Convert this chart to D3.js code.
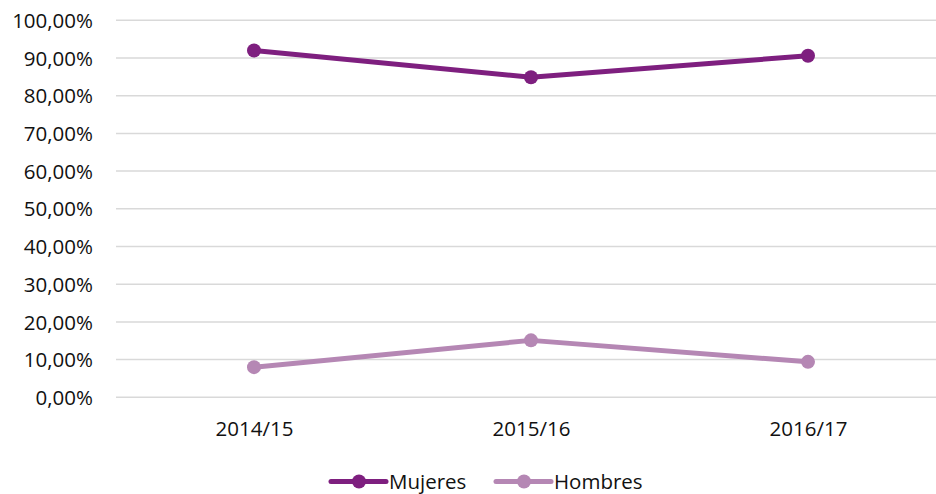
<!DOCTYPE html>
<html><head><meta charset="utf-8">
<script src="https://cdn.jsdelivr.net/npm/d3@7"></script>
<style>body{margin:0;background:#fff}svg{display:block}text{font-family:"Open Sans",sans-serif;fill:#111}</style>
</head><body>
<svg id="c" width="936" height="494"></svg>
<script>
const categories = ["2014/15","2015/16","2016/17"];
const mujeres = [0.920, 0.849, 0.906];
const hombres = [0.080, 0.151, 0.094];
const yTicks = [0,0.1,0.2,0.3,0.4,0.5,0.6,0.7,0.8,0.9,1.0];
const seriesNames = ["Mujeres","Hombres"];
const colors = ["#7e1f7f","#b587b4"];

const svg = d3.select("#c");
const W = 936;
const FONT = "'Open Sans',sans-serif";
const FS = 20.5;
const x = d3.scalePoint().domain(categories).range([254, 808]);
const y = d3.scaleLinear().domain([0,1]).range([397.3, 20.3]);
const fmt = v => (v*100).toFixed(2).replace(".", ",") + "%";

svg.append("g").selectAll("line").data(yTicks).join("line")
  .attr("x1",116).attr("x2",W).attr("y1",d=>y(d)).attr("y2",d=>y(d))
  .attr("stroke","#d9d9d9").attr("stroke-width",1.5);

const yAxis = d3.axisLeft(y).tickValues(yTicks).tickFormat(fmt).tickSize(0).tickPadding(0);
const ga = svg.append("g").attr("transform","translate(93,0)").call(yAxis);
ga.select(".domain").remove();
ga.selectAll("text").attr("font-size",FS).attr("dy","0.35em").style("font-family",FONT).attr("fill","#0d0d0d");

const xAxis = d3.axisBottom(x).tickSize(0).tickPadding(0);
const gx = svg.append("g").attr("transform","translate(0,429)").call(xAxis);
gx.select(".domain").remove();
gx.selectAll("text").attr("font-size",FS).attr("dy","0.35em").style("font-family",FONT).attr("fill","#0d0d0d");

const data = [mujeres, hombres];
const line = d3.line().x((d,i)=>x(categories[i])).y(d=>y(d));
data.forEach((s,k)=>{
  svg.append("path").datum(s).attr("d",line).attr("fill","none")
    .attr("stroke",colors[k]).attr("stroke-width",5).attr("stroke-linecap","round").attr("stroke-linejoin","round");
  svg.append("g").selectAll("circle").data(s).join("circle")
    .attr("cx",(d,i)=>x(categories[i])).attr("cy",d=>y(d)).attr("r",7).attr("fill",colors[k]);
});

const legX = [331, 496];
seriesNames.forEach((n,k)=>{
  const g = svg.append("g").attr("transform",`translate(${legX[k]},481.5)`);
  g.append("line").attr("x1",0).attr("x2",55).attr("stroke",colors[k]).attr("stroke-width",5).attr("stroke-linecap","round");
  g.append("circle").attr("cx",28).attr("r",7).attr("fill",colors[k]);
  g.append("text").attr("x",58).attr("dy","0.35em").attr("font-size",FS).style("font-family",FONT).attr("fill","#0d0d0d").text(n);
});
</script>
</body></html>
